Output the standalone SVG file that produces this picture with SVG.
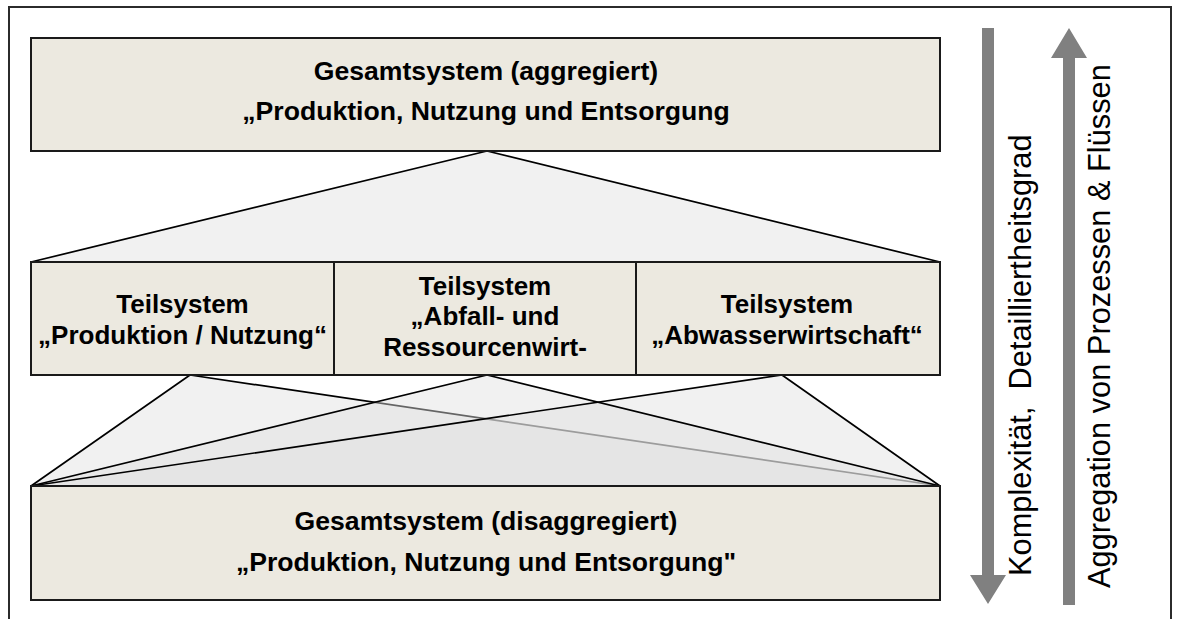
<svg xmlns="http://www.w3.org/2000/svg" width="1183" height="619" viewBox="0 0 1183 619">
  <style>
    .frame{fill:#fff;stroke:#2b2b2b;stroke-width:2}
    .box{fill:#ECE9E0;stroke:#1a1a1a;stroke-width:2}
    .lbl{font-family:"Liberation Sans",Arial,sans-serif;font-weight:bold;font-size:26px;fill:#000;text-anchor:middle}
    .big{font-size:26.6px}
    .fan{fill:#e1e1e1;fill-opacity:0.45;stroke:none}
    .edge{stroke:#000;stroke-width:1.7;fill:none;stroke-linejoin:round}
    .side{font-family:"Liberation Sans",Arial,sans-serif;font-size:30.8px;fill:#000}
    .arrow{fill:#808080}
  </style>

  <!-- outer frame (open to the bottom) -->
  <rect class="frame" x="9" y="7" width="1162" height="640"/>

  <!-- connectors: aggregation fans between the levels -->
  <g id="connectors">
    <!-- top level to subsystems -->
    <polygon class="fan" points="487,151 31,262 940,262"/>
    <polyline class="edge" points="31,262 487,151 940,262"/>
    <!-- subsystems to disaggregated system -->
    <polygon class="fan" points="190,375 31,486 940,486"/>
    <polyline class="edge" points="31,486 190,375 940,486"/>
    <polygon class="fan" points="487,375 31,486 940,486"/>
    <polygon class="fan" points="782,375 31,486 940,486"/>
    <polyline class="edge" points="31,486 487,375 940,486"/>
    <polyline class="edge" points="31,486 782,375 940,486"/>
  </g>

  <g id="gesamt-aggregiert">
    <rect class="box" x="31" y="38" width="909" height="113"/>
    <text class="lbl big" x="486" y="80">Gesamtsystem (aggregiert)</text>
    <text class="lbl big" x="486" y="120">„Produktion, Nutzung und Entsorgung</text>
  </g>

  <g id="teil-produktion">
    <rect class="box" x="31" y="262" width="303" height="113"/>
    <text class="lbl" x="182.5" y="313">Teilsystem</text>
    <text class="lbl" x="182.5" y="344">„Produktion / Nutzung“</text>
  </g>

  <g id="teil-abfall">
    <rect class="box" x="334" y="262" width="302" height="113"/>
    <text class="lbl" x="485" y="295">Teilsystem</text>
    <text class="lbl" x="485" y="325">„Abfall- und</text>
    <text class="lbl" x="485" y="356">Ressourcenwirt-</text>
  </g>

  <g id="teil-abwasser">
    <rect class="box" x="636" y="262" width="304" height="113"/>
    <text class="lbl" x="787" y="313">Teilsystem</text>
    <text class="lbl" x="787" y="344">„Abwasserwirtschaft“</text>
  </g>

  <g id="gesamt-disaggregiert">
    <rect class="box" x="31" y="486" width="909" height="114"/>
    <text class="lbl big" x="486" y="530">Gesamtsystem (disaggregiert)</text>
    <text class="lbl big" x="486" y="571">„Produktion, Nutzung und Entsorgung"</text>
  </g>

  <g id="komplexitaet">
    <polygon class="arrow" points="982,28 994,28 994,575 1006,575 988,604 970,575 982,575"/>
    <text class="side" x="1031" y="576" transform="rotate(-90 1031 576)" xml:space="preserve">Komplexität,  Detailliertheitsgrad</text>
  </g>

  <g id="aggregation">
    <polygon class="arrow" points="1069,28 1087,58 1075,58 1075,605 1063,605 1063,58 1051,58"/>
    <text class="side" x="1110" y="588" transform="rotate(-90 1110 588)">Aggregation von Prozessen &amp; Flüssen</text>
  </g>
</svg>
